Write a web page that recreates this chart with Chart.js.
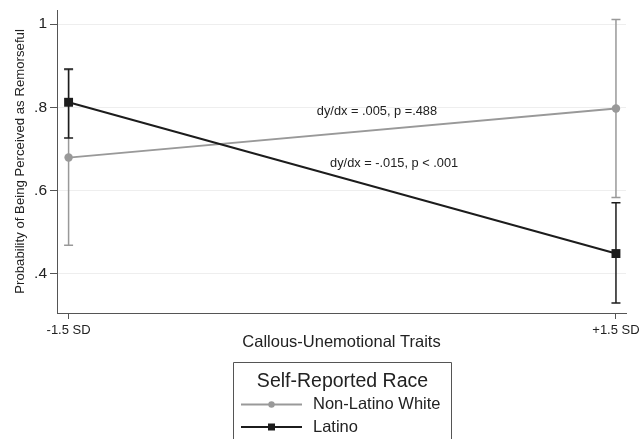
<!DOCTYPE html>
<html><head><meta charset="utf-8">
<script src="https://cdn.jsdelivr.net/npm/chart.js@4"></script>
<style>html,body{margin:0;padding:0;background:#fff}#wrap{position:relative;width:641px;height:439px}</style>
</head><body><div id="wrap"><canvas id="c" width="641" height="439"></canvas></div>
<script>
// ---- data ----
const xPositions = [-1.5, 1.5];
const xTickLabels = ['-1.5 SD', '+1.5 SD'];
const yTickValues = [0.4, 0.6, 0.8, 1.0];
const yTickLabels = ['.4', '.6', '.8', '1'];
const seriesNames = ['Non-Latino White', 'Latino'];
const whiteMean = [0.679, 0.797];
const whiteLow  = [0.468, 0.583];
const whiteHigh = [0.890, 1.011];
const latinoMean = [0.812, 0.448];
const latinoLow  = [0.726, 0.329];
const latinoHigh = [0.892, 0.570];
const annotationTexts = ['dy/dx = .005, p =.488', 'dy/dx = -.015, p < .001'];
const xTitle = 'Callous-Unemotional Traits';
const yTitle = 'Probability of Being Perceived as Remorseful';
const legendTitle = 'Self-Reported Race';

// ---- styling / layout ----
const FONT = "'Liberation Sans', Arial, sans-serif";
const GREY = '#999999';
const BLACK = '#1c1c1c';
const AXIS = '#555555';
const annotationAnchors = [{x: 0.19, y: 0.791}, {x: 0.284, y: 0.665}];
const lows = [whiteLow, latinoLow];
const highs = [whiteHigh, latinoHigh];
const seriesColors = [GREY, BLACK];

const toPts = arr => xPositions.map((x, i) => ({x, y: arr[i]}));

const errorBars = {
  id: 'errorBars',
  beforeDatasetDraw(chart, args) {
    const i = args.index;
    const {ctx, scales: {x, y}} = chart;
    ctx.save();
    ctx.strokeStyle = seriesColors[i];
    ctx.lineWidth = 1.5;
    xPositions.forEach((xv, k) => {
      const px = x.getPixelForValue(xv);
      const pl = y.getPixelForValue(lows[i][k]);
      const ph = y.getPixelForValue(highs[i][k]);
      ctx.beginPath();
      ctx.moveTo(px, pl); ctx.lineTo(px, ph);
      ctx.moveTo(px - 4.5, pl); ctx.lineTo(px + 4.5, pl);
      ctx.moveTo(px - 4.5, ph); ctx.lineTo(px + 4.5, ph);
      ctx.stroke();
    });
    ctx.restore();
  }
};

const annotations = {
  id: 'annotations',
  afterDatasetsDraw(chart) {
    const {ctx, scales: {x, y}} = chart;
    ctx.save();
    ctx.font = '12.8px ' + FONT;
    ctx.fillStyle = '#222';
    ctx.textAlign = 'center';
    ctx.textBaseline = 'middle';
    annotationTexts.forEach((t, i) => {
      ctx.fillText(t, x.getPixelForValue(annotationAnchors[i].x), y.getPixelForValue(annotationAnchors[i].y));
    });
    ctx.restore();
  }
};

const boxLegend = {
  id: 'boxLegend',
  afterDraw(chart) {
    const ctx = chart.ctx;
    const L = 233.5, T = 362.5, R = 451.5;
    ctx.save();
    ctx.strokeStyle = AXIS;
    ctx.lineWidth = 1;
    ctx.beginPath();
    ctx.moveTo(L, 445); ctx.lineTo(L, T); ctx.lineTo(R, T); ctx.lineTo(R, 445);
    ctx.stroke();
    ctx.fillStyle = '#222';
    ctx.textBaseline = 'middle';
    ctx.textAlign = 'center';
    ctx.font = '19.5px ' + FONT;
    ctx.fillText(legendTitle, (L + R) / 2, 382);
    ctx.textAlign = 'left';
    ctx.font = '16.5px ' + FONT;
    const rowY = [404.5, 427];
    chart.data.datasets.forEach((ds, i) => {
      const yy = rowY[i];
      ctx.strokeStyle = ds.borderColor;
      ctx.lineWidth = ds.borderWidth;
      ctx.beginPath(); ctx.moveTo(241, yy); ctx.lineTo(302, yy); ctx.stroke();
      ctx.fillStyle = ds.pointBackgroundColor;
      if (ds.pointStyle === 'rect') {
        ctx.fillRect(271.5 - 3.5, yy - 3.5, 7, 7);
      } else {
        ctx.beginPath(); ctx.arc(271.5, yy, 3.2, 0, Math.PI * 2); ctx.fill();
      }
      ctx.fillStyle = '#222';
      ctx.fillText(ds.label, 313, yy);
    });
    ctx.restore();
  }
};

new Chart(document.getElementById('c'), {
  type: 'line',
  data: {
    datasets: [
      { label: seriesNames[0], data: toPts(whiteMean), borderColor: GREY, borderWidth: 1.8,
        pointStyle: 'circle', pointRadius: 4.2, pointBackgroundColor: GREY, pointBorderWidth: 0, order: 1 },
      { label: seriesNames[1], data: toPts(latinoMean), borderColor: BLACK, borderWidth: 2,
        pointStyle: 'rect', pointRadius: 6.3, pointBackgroundColor: BLACK, pointBorderWidth: 0, order: 0 }
    ]
  },
  options: {
    responsive: false,
    animation: false,
    devicePixelRatio: 1,
    layout: { padding: { left: 0, top: 10, right: 15, bottom: 86 } },
    plugins: { legend: { display: false }, tooltip: { enabled: false } },
    scales: {
      x: {
        type: 'linear', min: -1.5635, max: 1.555,
        afterBuildTicks: s => { s.ticks = xPositions.map(v => ({value: v})); },
        afterFit: s => { s.height = 40; s.paddingLeft = 0; s.paddingRight = 0; },
        ticks: { font: { family: FONT, size: 13 }, color: '#222', padding: 4, maxRotation: 0, autoSkip: false,
          callback: (v, i) => xTickLabels[i] },
        grid: { drawOnChartArea: false, drawTicks: true, tickLength: 6, tickColor: AXIS, tickWidth: 1 },
        border: { color: AXIS, width: 1 },
        title: { display: true, text: xTitle, font: { family: FONT, size: 16.5 }, color: '#222', padding: { top: 0, bottom: 1 } }
      },
      y: {
        type: 'linear', min: 0.305, max: 1.034,
        afterBuildTicks: s => { s.ticks = yTickValues.map(v => ({value: v})); },
        afterFit: s => { s.width = 57; s.paddingTop = 0; s.paddingBottom = 0; },
        ticks: { font: { family: FONT, size: 15.5 }, color: '#222', padding: 3, autoSkip: false,
          callback: (v, i) => yTickLabels[i] },
        grid: { color: '#eeeeee', lineWidth: 1, drawTicks: true, tickLength: 7, tickColor: AXIS, tickWidth: 1 },
        border: { color: AXIS, width: 1 },
        title: { display: true, text: yTitle, font: { family: FONT, size: 13.2 }, color: '#222', padding: { top: 12, bottom: 0 } }
      }
    }
  },
  plugins: [errorBars, annotations, boxLegend]
});
</script></body></html>
